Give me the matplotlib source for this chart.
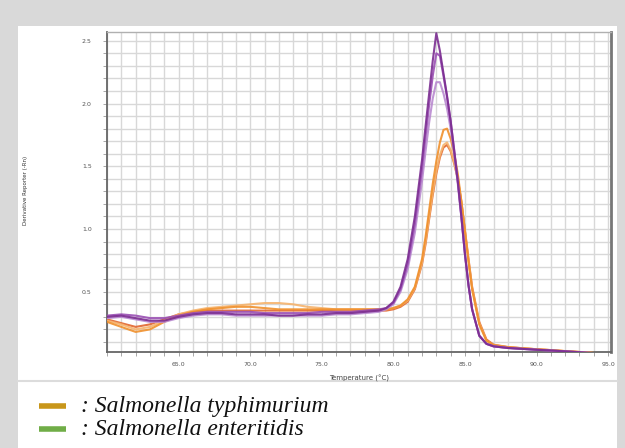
import numpy as np
import matplotlib
matplotlib.use('Agg')
import matplotlib.pyplot as plt
from matplotlib.patches import Rectangle
from matplotlib.lines import Line2D
from matplotlib.ticker import MultipleLocator, FormatStrFormatter

# Temperature grid (deg C)
temps = [60, 61, 62, 63, 64, 65, 66, 67, 68, 69, 70, 71, 72, 73, 74, 75, 76, 77, 78, 79,
         79.5, 80, 80.5, 81, 81.5, 82, 82.25, 82.5, 82.75, 83, 83.25, 83.5, 83.75, 84,
         84.25, 84.5, 84.75, 85, 85.25, 85.5, 86, 86.5, 87, 88, 89, 90, 91, 92, 93, 94]

# Derivative reporter, purple curves
purple_1 = [0.30, 0.31, 0.29, 0.27, 0.27, 0.30, 0.32, 0.33, 0.33, 0.32, 0.32, 0.32, 0.31, 0.31,
            0.32, 0.32, 0.33, 0.33, 0.34, 0.35,
            0.37, 0.42, 0.54, 0.76, 1.10, 1.55, 1.82, 2.08, 2.34, 2.56, 2.42, 2.24, 2.06, 1.86,
            1.62, 1.38, 1.10, 0.80, 0.55, 0.36, 0.15, 0.085, 0.065, 0.052, 0.045, 0.038, 0.032,
            0.025, 0.018, 0.010]
purple_2 = [0.31, 0.32, 0.31, 0.29, 0.29, 0.31, 0.33, 0.34, 0.34, 0.34, 0.34, 0.33, 0.33, 0.33,
            0.33, 0.34, 0.34, 0.34, 0.35, 0.36,
            0.37, 0.41, 0.52, 0.72, 1.04, 1.48, 1.74, 1.99, 2.22, 2.40, 2.38, 2.22, 2.05, 1.86,
            1.63, 1.38, 1.10, 0.80, 0.55, 0.36, 0.15, 0.085, 0.065, 0.052, 0.045, 0.038, 0.032,
            0.025, 0.018, 0.010]
purple_3 = [0.29, 0.30, 0.28, 0.26, 0.26, 0.29, 0.31, 0.32, 0.32, 0.31, 0.31, 0.31, 0.31, 0.31,
            0.31, 0.31, 0.32, 0.32, 0.33, 0.34,
            0.36, 0.40, 0.50, 0.68, 0.97, 1.38, 1.62, 1.85, 2.04, 2.17, 2.17, 2.08, 1.96, 1.80,
            1.60, 1.36, 1.09, 0.80, 0.55, 0.36, 0.15, 0.085, 0.065, 0.052, 0.045, 0.038, 0.032,
            0.025, 0.018, 0.010]

# Derivative reporter, orange curves
orange_1 = [0.26, 0.22, 0.18, 0.20, 0.26, 0.31, 0.34, 0.36, 0.37, 0.38, 0.38, 0.37, 0.36, 0.36,
            0.36, 0.36, 0.36, 0.36, 0.36, 0.36,
            0.36, 0.37, 0.39, 0.44, 0.54, 0.76, 0.94, 1.15, 1.36, 1.54, 1.69, 1.79, 1.80, 1.72,
            1.60, 1.44, 1.22, 0.98, 0.74, 0.52, 0.24, 0.11, 0.075, 0.058, 0.050, 0.042, 0.035,
            0.027, 0.020, 0.012]
orange_2 = [0.27, 0.24, 0.20, 0.22, 0.27, 0.32, 0.35, 0.37, 0.38, 0.39, 0.40, 0.41, 0.41, 0.40,
            0.38, 0.37, 0.36, 0.36, 0.36, 0.36,
            0.36, 0.37, 0.39, 0.43, 0.53, 0.73, 0.90, 1.10, 1.29, 1.46, 1.59, 1.67, 1.69, 1.63,
            1.53, 1.40, 1.21, 0.98, 0.75, 0.53, 0.25, 0.11, 0.075, 0.058, 0.050, 0.042, 0.035,
            0.027, 0.020, 0.012]
orange_3 = [0.28, 0.25, 0.22, 0.24, 0.28, 0.32, 0.34, 0.35, 0.35, 0.35, 0.35, 0.35, 0.35, 0.35,
            0.35, 0.35, 0.35, 0.35, 0.35, 0.35,
            0.35, 0.36, 0.38, 0.42, 0.52, 0.72, 0.88, 1.08, 1.27, 1.44, 1.57, 1.65, 1.67, 1.62,
            1.52, 1.40, 1.22, 0.99, 0.76, 0.54, 0.26, 0.12, 0.078, 0.060, 0.050, 0.042, 0.035,
            0.027, 0.020, 0.012]

curves = [
    (orange_3, '#e2672e'),
    (orange_2, '#f6b46e'),
    (orange_1, '#f0902c'),
    (purple_3, '#b98ad0'),
    (purple_2, '#9a4fb4'),
    (purple_1, '#7b2d91'),
]

legend_labels = ['Salmonella typhimurium', 'Salmonella enteritidis']
legend_colors = ['#c8961a', '#70ad47']

W, H = 625, 448
fig = plt.figure(figsize=(W / 100, H / 100), dpi=100)
fig.patch.set_facecolor('#d9d9d9')

# white panel and separator
fig.patches.append(Rectangle((18 / W, 0), (617 - 18) / W, (H - 26) / H,
                             transform=fig.transFigure, facecolor='white',
                             edgecolor='none', zorder=-5))
fig.lines.append(Line2D([18 / W, 617 / W], [1 - 381 / H, 1 - 381 / H],
                        transform=fig.transFigure, color='#dcdcdc', lw=1.5, zorder=-4))

ax = fig.add_axes([107 / W, 1 - 352 / H, (611 - 107) / W, (352 - 32) / H])
ax.set_zorder(2)
for vals, col in curves:
    ax.plot(temps, vals, color=col, lw=1.5, alpha=0.9, zorder=3)

ax.set_xlim(60, 95.2)
ax.set_ylim(0.02, 2.57)
ax.xaxis.set_minor_locator(MultipleLocator(1))
ax.yaxis.set_minor_locator(MultipleLocator(0.1))
ax.set_xticks([65, 70, 75, 80, 85, 90, 95])
ax.set_yticks([0.5, 1.0, 1.5, 2.0, 2.5])
ax.xaxis.set_major_formatter(FormatStrFormatter('%.1f'))
ax.yaxis.set_major_formatter(FormatStrFormatter('%.1f'))
ax.grid(True, which='both', color='#d8d8d8', lw=1.0, zorder=1)
ax.set_axisbelow(True)
ax.tick_params(which='both', direction='out', colors='#999999', length=3, width=0.6,
               labelsize=4.5, labelcolor='#555555')
ax.tick_params(axis='y', pad=8)
ax.tick_params(axis='x', pad=4)

for side in ['left', 'bottom']:
    ax.spines[side].set_color('#666666')
    ax.spines[side].set_linewidth(1.3)
ax.spines['right'].set_color('#777777')
ax.spines['right'].set_linewidth(2)
ax.spines['top'].set_color('#b0b0b0')
ax.spines['top'].set_linewidth(1)

ax.set_xlabel('Temperature (°C)', fontsize=5, color='#444444', labelpad=6)
fig.text(26 / W, 1 - 190 / H, 'Derivative Reporter (-Rn)', rotation=90, fontsize=4,
         color='#333333', ha='center', va='center')

# legend below the chart
for i, (lab, col) in enumerate(zip(legend_labels, legend_colors)):
    y = 1 - (406 + 23 * i) / H
    fig.lines.append(Line2D([39 / W, 66 / W], [y, y], transform=fig.transFigure,
                            color=col, lw=4, solid_capstyle='butt'))
    fig.text(81 / W, y, ': ' + lab, fontsize=17, family='Liberation Serif',
             style='italic', color='#111111', va='center', ha='left')

fig.savefig('out.png', dpi=100, facecolor=fig.get_facecolor())
